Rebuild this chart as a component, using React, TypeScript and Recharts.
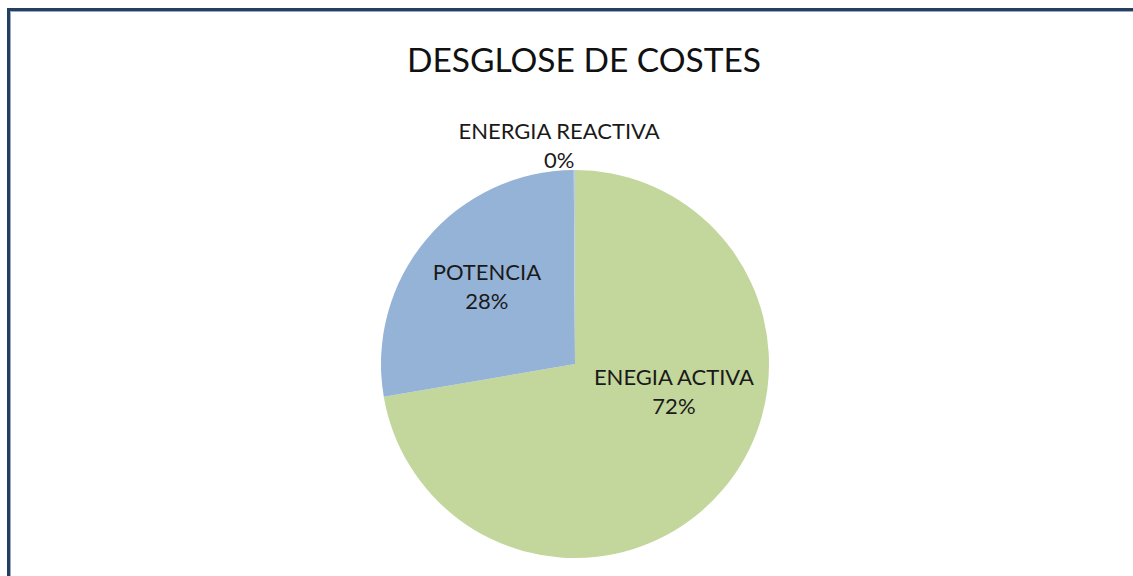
import React from "react";
import { PieChart, Pie, Cell } from "recharts";

const categories = ["ENEGIA ACTIVA", "POTENCIA", "ENERGIA REACTIVA"];
const values = [72.3, 27.6, 0.1];
const colors = ["#C3D69B", "#95B3D7", "#B9CDE5"];

const data = categories.map((name, i) => ({ name, value: values[i] }));

// label offsets relative to the pie centre, as fractions of the radius
const labelOffsets: Record<string, [number, number]> = {
  "ENEGIA ACTIVA": [0.51, 0.108],
  POTENCIA: [-0.454, -0.433],
  "ENERGIA REACTIVA": [-0.082, -1.16],
};

const FONT = "Lato, 'Open Sans', sans-serif";

const renderLabel = (props: any) => {
  const { cx, cy, outerRadius, name, percent } = props;
  const off = labelOffsets[name] || [0, 0];
  const x = cx + off[0] * outerRadius;
  const y = cy + off[1] * outerRadius;
  return (
    <text x={x} y={y} textAnchor="middle" fill="#1a1a1a" fontSize={22} fontFamily={FONT}>
      <tspan x={x} y={y}>{name}</tspan>
      <tspan x={x} y={y + 29}>{`${Math.round(percent * 100)}%`}</tspan>
    </text>
  );
};

export default function App() {
  return (
    <div
      style={{
        position: "fixed",
        left: 0,
        top: 0,
        width: 1133,
        height: 576,
        background: "#fff",
        overflow: "hidden",
      }}
    >
      {/* chart frame, cut off at the right and bottom */}
      <div
        style={{
          position: "absolute",
          left: 7,
          top: 8,
          width: 1300,
          height: 800,
          borderLeft: "3px solid #243F60",
          borderTop: "3px solid #243F60",
          boxShadow: "inset 1px 1px 0 #9AAAC4",
        }}
      />
      <div
        style={{
          position: "absolute",
          left: 0,
          top: 39,
          width: 1168,
          textAlign: "center",
          fontFamily: FONT,
          fontSize: 33.5,
          color: "#111",
          lineHeight: "40px",
        }}
      >
        DESGLOSE DE COSTES
      </div>
      <div style={{ position: "absolute", left: 0, top: 0 }}>
        <PieChart width={1133} height={576} margin={{ top: 0, right: 0, bottom: 0, left: 0 }}>
          <Pie
            data={data}
            dataKey="value"
            nameKey="name"
            cx={575}
            cy={364}
            outerRadius={194}
            startAngle={90}
            endAngle={-270}
            stroke="none"
            label={renderLabel}
            labelLine={false}
            isAnimationActive={false}
          >
            {data.map((d, i) => (
              <Cell key={d.name} fill={colors[i]} />
            ))}
          </Pie>
        </PieChart>
      </div>
    </div>
  );
}
